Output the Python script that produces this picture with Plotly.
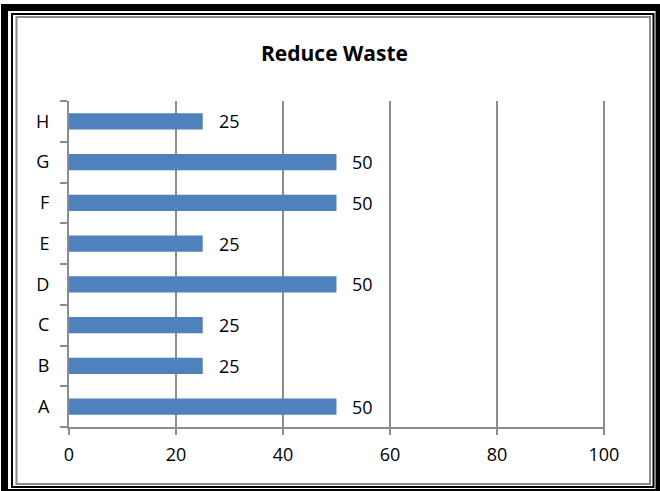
import plotly.graph_objects as go

# Chart data
categories = ["A", "B", "C", "D", "E", "F", "G", "H"]
values = [50, 25, 25, 50, 25, 50, 50, 25]
x_ticks = [0, 20, 40, 60, 80, 100]

W, H = 660, 491
ML, MR, MT, MB = 69, 55, 101, 64
PW, PH = W - ML - MR, H - MT - MB

GRID = "#8c8c8c"
BAR = "#4f81bd"
FONT = "Open Sans"


def px_x(p):
    return (p - ML) / PW


def px_y(p):
    return (H - MB - p) / PH


fig = go.Figure()
fig.add_trace(go.Bar(
    x=values,
    y=categories,
    orientation="h",
    marker=dict(color=BAR, line=dict(width=0)),
    hoverinfo="skip",
))

# Value labels to the right of each bar
for cat, val in zip(categories, values):
    fig.add_annotation(
        x=val, y=cat, xref="x", yref="y",
        text=str(val), showarrow=False,
        xanchor="left", xshift=14,
        font=dict(family=FONT, size=18, color="#000000"),
    )

# Chart title
fig.add_annotation(
    x=px_x(334), y=px_y(53), xref="paper", yref="paper",
    text="<b>Reduce Waste</b>", showarrow=False,
    xanchor="center", yanchor="middle",
    font=dict(family=FONT, size=21, color="#000000"),
)

# Decorative frame: thick black outer band, thin black rule, gray chart border
def frame(x0, y0, x1, y1, **kw):
    return dict(type="rect", xref="paper", yref="paper",
                x0=px_x(x0), x1=px_x(x1), y0=px_y(y0), y1=px_y(y1),
                layer="below", **kw)


shapes = [
    frame(1, 4, 661, 492, fillcolor="#000000", line=dict(width=0)),
    frame(8, 11, 655.5, 489, fillcolor="#ffffff", line=dict(width=0)),
    frame(12, 14, 653.5, 487, fillcolor="rgba(0,0,0,0)",
          line=dict(color="#000000", width=2)),
    frame(16.5, 17, 650, 484, fillcolor="rgba(0,0,0,0)",
          line=dict(color=GRID, width=2)),
]

fig.update_layout(
    width=W, height=H,
    margin=dict(l=ML, r=MR, t=MT, b=MB, pad=0),
    paper_bgcolor="#ffffff",
    plot_bgcolor="rgba(0,0,0,0)",
    showlegend=False,
    bargap=0.6,
    shapes=shapes,
    xaxis=dict(
        range=[0, 100.2], tickvals=x_ticks, ticktext=[str(t) for t in x_ticks],
        showgrid=True, gridcolor=GRID, gridwidth=2,
        showline=True, linecolor=GRID, linewidth=2,
        ticks="outside", ticklen=6, tickcolor=GRID, tickwidth=2,
        ticklabelstandoff=4,
        zeroline=False,
        tickfont=dict(family=FONT, size=18, color="#000000"),
        fixedrange=True,
    ),
    yaxis=dict(
        categoryorder="array", categoryarray=categories,
        showgrid=False,
        showline=True, linecolor=GRID, linewidth=2,
        ticks="outside", tickson="boundaries", ticklen=7, tickcolor=GRID, tickwidth=2,
        ticklabelstandoff=14,
        tickfont=dict(family=FONT, size=18, color="#000000"),
        fixedrange=True,
    ),
)

fig.write_html("out.html")
